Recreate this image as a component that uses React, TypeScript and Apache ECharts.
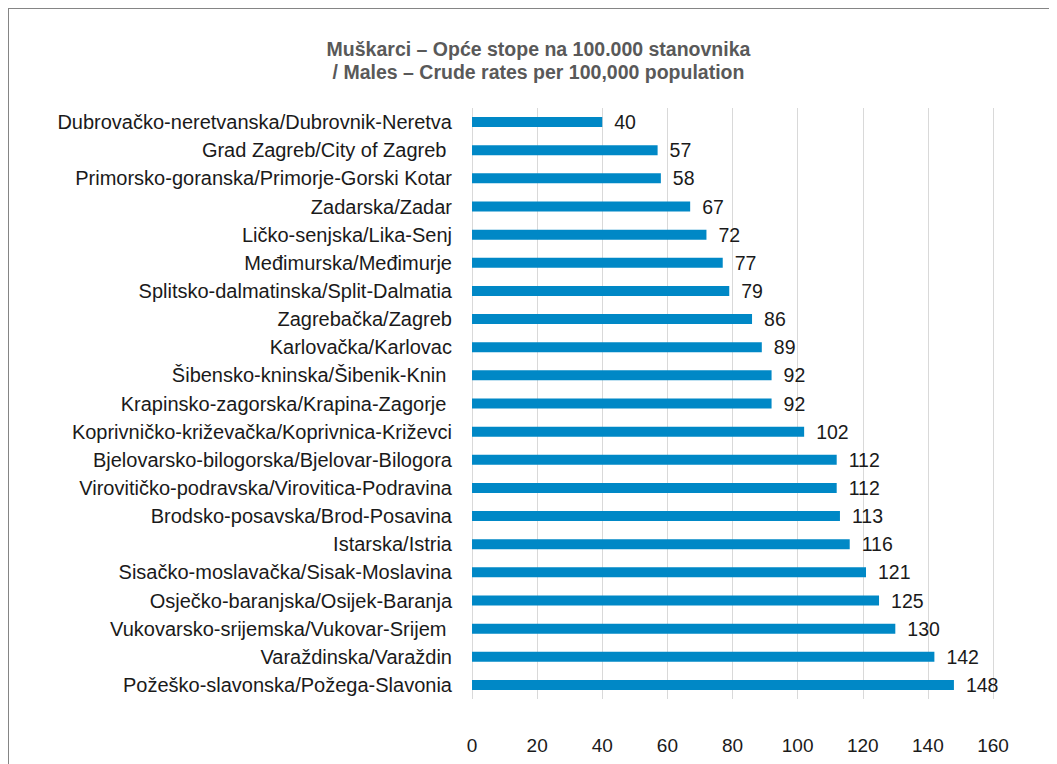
import React, { useEffect, useRef } from "react";
import * as echarts from "echarts";

const categories = [
  "Dubrovačko-neretvanska/Dubrovnik-Neretva",
  "Grad Zagreb/City of Zagreb ",
  "Primorsko-goranska/Primorje-Gorski Kotar",
  "Zadarska/Zadar",
  "Ličko-senjska/Lika-Senj",
  "Međimurska/Međimurje",
  "Splitsko-dalmatinska/Split-Dalmatia",
  "Zagrebačka/Zagreb",
  "Karlovačka/Karlovac",
  "Šibensko-kninska/Šibenik-Knin ",
  "Krapinsko-zagorska/Krapina-Zagorje ",
  "Koprivničko-križevačka/Koprivnica-Križevci",
  "Bjelovarsko-bilogorska/Bjelovar-Bilogora",
  "Virovitičko-podravska/Virovitica-Podravina",
  "Brodsko-posavska/Brod-Posavina",
  "Istarska/Istria",
  "Sisačko-moslavačka/Sisak-Moslavina",
  "Osječko-baranjska/Osijek-Baranja",
  "Vukovarsko-srijemska/Vukovar-Srijem ",
  "Varaždinska/Varaždin",
  "Požeško-slavonska/Požega-Slavonia",
];

const values = [40, 57, 58, 67, 72, 77, 79, 86, 89, 92, 92, 102, 112, 112, 113, 116, 121, 125, 130, 142, 148];

const titleText = "Muškarci – Opće stope na 100.000 stanovnika\n/ Males – Crude rates per 100,000 population";

const FONT = "'Liberation Sans', Arial, sans-serif";

export default function App() {
  const ref = useRef<HTMLDivElement>(null);
  useEffect(() => {
    document.body.style.overflow = "hidden";
    document.documentElement.style.overflow = "hidden";
    if (!ref.current) return;
    const chart = echarts.init(ref.current, undefined, { renderer: "svg" });
    chart.setOption({
      animation: false,
      backgroundColor: "#ffffff",
      title: {
        text: titleText,
        left: "center",
        top: 23,
        textStyle: {
          fontFamily: FONT,
          fontWeight: "bold",
          fontSize: 19.5,
          lineHeight: 23,
          color: "#595959",
        },
      },
      grid: { left: 463, right: 75, top: 99, bottom: 65, containLabel: false },
      xAxis: {
        type: "value",
        min: 0,
        max: 160,
        interval: 20,
        axisLine: { show: false },
        axisTick: { show: false },
        splitLine: { show: true, lineStyle: { color: "#d9d9d9", width: 1 } },
        axisLabel: {
          margin: 37,
          fontFamily: FONT,
          fontSize: 19,
          color: "#1a1a1a",
        },
      },
      yAxis: {
        type: "category",
        data: categories,
        inverse: true,
        axisLine: { show: false },
        axisTick: { show: false },
        splitLine: { show: false },
        axisLabel: {
          margin: 20,
          fontFamily: FONT,
          fontSize: 20,
          color: "#1a1a1a",
        },
      },
      series: [
        {
          type: "bar",
          data: values,
          barWidth: 10,
          itemStyle: { color: "#0088c6" },
          label: {
            show: true,
            position: "right",
            distance: 12,
            fontFamily: FONT,
            fontSize: 19.5,
            color: "#1a1a1a",
          },
        },
      ],
    });
    return () => chart.dispose();
  }, []);
  return (
    <div
      style={{
        width: 1060,
        height: 756,
        borderTop: "1px solid #858585",
        borderLeft: "1px solid #858585",
        boxSizing: "border-box",
        background: "#fff",
      }}
    >
      <div ref={ref} style={{ width: 1059, height: 755 }} />
    </div>
  );
}
